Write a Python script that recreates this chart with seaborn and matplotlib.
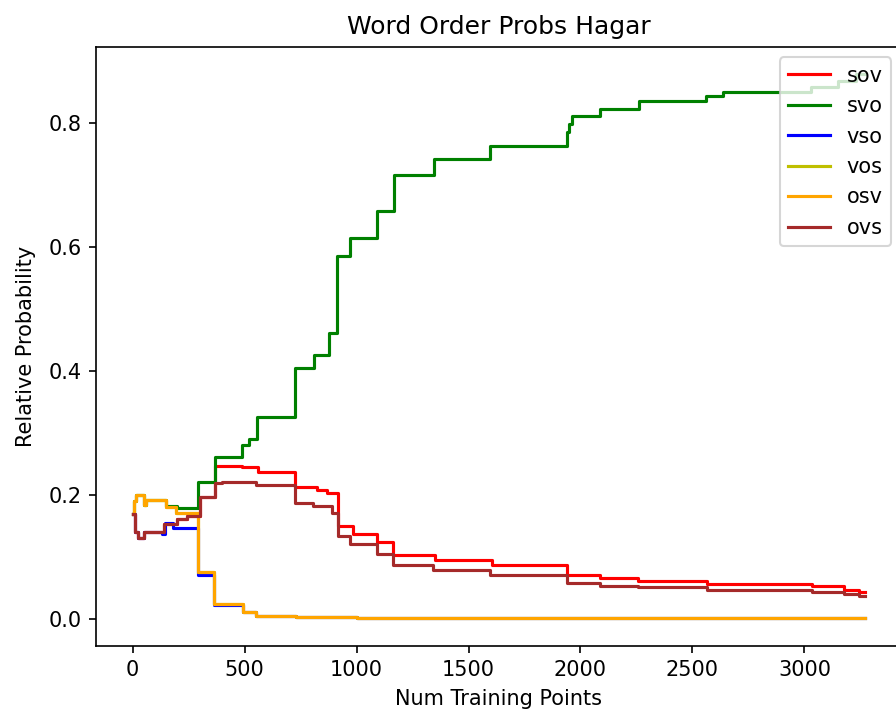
import matplotlib
matplotlib.use("Agg")
import matplotlib.pyplot as plt
import seaborn as sns

# step breakpoints (x = num training points)
sov_x = [0, 10, 25, 53, 142, 200, 245, 300, 366, 490, 560, 724, 823, 870, 917, 984,
         1090, 1163, 1246, 1350, 1605, 1939, 2088, 2258, 2566, 3036, 3175, 3243, 3270]
sov_y = [0.168, 0.14, 0.13, 0.14, 0.152, 0.16, 0.165, 0.197, 0.247, 0.244, 0.236, 0.213,
         0.208, 0.202, 0.149, 0.137, 0.124, 0.102, 0.103, 0.095, 0.087, 0.071, 0.065,
         0.061, 0.056, 0.052, 0.047, 0.043, 0.043]

svo_x = [0, 5, 17, 52, 60, 150, 200, 290, 366, 490, 520, 557, 727, 812, 879, 911, 969,
         1090, 1166, 1345, 1597, 1940, 1950, 1963, 2088, 2260, 2561, 2637, 3031, 3150,
         3230, 3270]
svo_y = [0.168, 0.19, 0.200, 0.184, 0.192, 0.181, 0.178, 0.22, 0.26, 0.28, 0.29, 0.325,
         0.405, 0.425, 0.46, 0.585, 0.614, 0.658, 0.716, 0.742, 0.762, 0.785, 0.797, 0.81,
         0.822, 0.834, 0.843, 0.850, 0.858, 0.867, 0.878, 0.878]

vso_x = [0, 10, 25, 53, 130, 145, 180, 290, 365, 492, 553, 731, 1000, 1500, 3270]
vso_y = [0.168, 0.14, 0.13, 0.14, 0.137, 0.155, 0.147, 0.071, 0.022, 0.011, 0.005,
         0.002, 0.001, 0.0003, 0.0003]

vos_x = [0, 5, 17, 52, 60, 150, 195, 290, 365, 492, 553, 731, 1000, 1500, 3270]
vos_y = [0.168, 0.19, 0.200, 0.184, 0.192, 0.180, 0.170, 0.075, 0.024, 0.011, 0.005,
         0.002, 0.001, 0.0003, 0.0003]

osv_x = [0, 5, 17, 52, 60, 150, 195, 290, 365, 492, 553, 731, 1000, 1500, 3270]
osv_y = [0.168, 0.19, 0.200, 0.184, 0.192, 0.180, 0.170, 0.075, 0.024, 0.011, 0.005,
         0.002, 0.001, 0.0003, 0.0003]

ovs_x = [0, 10, 25, 53, 142, 200, 245, 300, 366, 400, 553, 724, 805, 889, 917, 970,
         1090, 1163, 1341, 1596, 1939, 2088, 2258, 2566, 3036, 3175, 3243, 3270]
ovs_y = [0.168, 0.14, 0.13, 0.14, 0.152, 0.16, 0.165, 0.197, 0.218, 0.221, 0.215, 0.186,
         0.181, 0.17, 0.133, 0.121, 0.105, 0.087, 0.079, 0.071, 0.057, 0.053, 0.051,
         0.047, 0.043, 0.039, 0.037, 0.037]

labels = ["sov", "svo", "vso", "vos", "osv", "ovs"]
colors = ["r", "g", "b", "y", "orange", "brown"]
series = [(sov_x, sov_y), (svo_x, svo_y), (vso_x, vso_y),
          (vos_x, vos_y), (osv_x, osv_y), (ovs_x, ovs_y)]

fig = plt.figure(figsize=(896 / 150, 717 / 150), dpi=150)
ax = fig.add_axes([96 / 896, 71.3 / 717, 805.5 / 896, 598.7 / 717])

for (xs, ys), lab, col in zip(series, labels, colors):
    sns.lineplot(x=xs, y=ys, color=col, label=lab, drawstyle="steps-post",
                 linewidth=1.5, ax=ax)

ax.set_title("Word Order Probs Hagar")
ax.set_xlabel("Num Training Points")
ax.set_ylabel("Relative Probability", labelpad=6)
ax.legend(loc="upper right")

fig.savefig("out.png", dpi=150)
